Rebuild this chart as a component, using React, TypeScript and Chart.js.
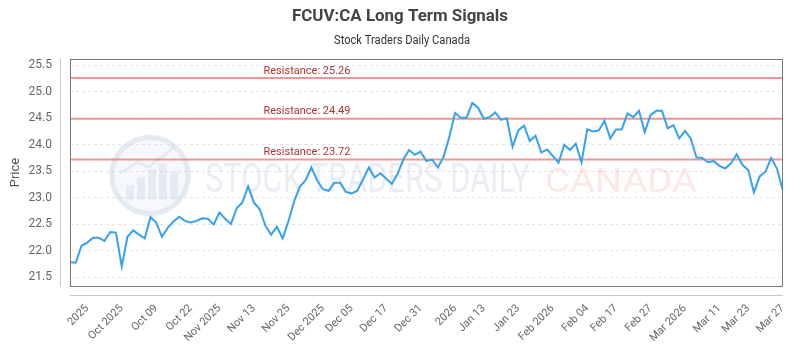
import React, { useEffect, useRef } from "react";
import { Chart, registerables } from "chart.js";

Chart.register(...registerables);

const prices: number[] = [
  21.78, 21.77, 22.09, 22.15, 22.24, 22.24, 22.18, 22.35, 22.34, 21.70,
  22.26, 22.38, 22.30, 22.23, 22.63, 22.53, 22.26, 22.43, 22.55, 22.64,
  22.56, 22.53, 22.56, 22.61, 22.60, 22.49, 22.72, 22.60, 22.50, 22.80,
  22.91, 23.21, 22.91, 22.78, 22.47, 22.30, 22.45, 22.23, 22.55, 22.93,
  23.21, 23.33, 23.57, 23.33, 23.16, 23.13, 23.28, 23.28, 23.11, 23.08,
  23.13, 23.35, 23.57, 23.38, 23.46, 23.36, 23.26, 23.45, 23.72, 23.90,
  23.81, 23.87, 23.69, 23.72, 23.57, 23.77, 24.15, 24.60, 24.51, 24.51,
  24.79, 24.70, 24.49, 24.52, 24.61, 24.47, 24.50, 23.96, 24.27, 24.36,
  24.07, 24.17, 23.85, 23.91, 23.79, 23.66, 24.00, 23.90, 24.02, 23.67,
  24.29, 24.25, 24.27, 24.45, 24.12, 24.29, 24.29, 24.59, 24.52, 24.64,
  24.24, 24.56, 24.64, 24.64, 24.31, 24.37, 24.12, 24.26, 24.12, 23.76,
  23.75, 23.67, 23.69, 23.60, 23.55, 23.65, 23.82, 23.62, 23.52, 23.10,
  23.40, 23.49, 23.75, 23.55, 23.15,
];

const tickIndices: number[] = [
  3, 9, 15, 21, 26, 32, 38, 44, 49, 55, 61, 67, 72, 78, 84, 90, 95, 101, 107, 113, 118, 124,
];
const tickLabels: string[] = [
  "2025", "Oct 2025", "Oct 09", "Oct 22", "Nov 2025", "Nov 13", "Nov 25",
  "Dec 2025", "Dec 05", "Dec 17", "Dec 31", "2026", "Jan 13", "Jan 23",
  "Feb 2026", "Feb 04", "Feb 17", "Feb 27", "Mar 2026", "Mar 11", "Mar 23", "Mar 27",
];

const resistanceLevels: number[] = [25.26, 24.49, 23.72];

const yMin = 21.33;
const yMax = 25.62;

const titleText = "FCUV:CA Long Term Signals";
const subtitleText = "Stock Traders Daily Canada";

function fitText(
  ctx: CanvasRenderingContext2D,
  text: string,
  x: number,
  y: number,
  width: number,
  font: string,
  color: string
) {
  ctx.save();
  ctx.font = font;
  ctx.fillStyle = color;
  ctx.textAlign = "left";
  ctx.textBaseline = "alphabetic";
  const w = ctx.measureText(text).width;
  ctx.translate(x, y);
  ctx.scale(width / w, 1);
  ctx.fillText(text, 0, 0);
  ctx.restore();
}

export default function App() {
  const ref = useRef<HTMLCanvasElement>(null);

  useEffect(() => {
    const canvas = ref.current;
    if (!canvas) return;
    const labels = prices.map((_, i) => {
      const k = tickIndices.indexOf(i);
      return k >= 0 ? tickLabels[k] : "";
    });

    const overlay = {
      id: "overlay",
      beforeDatasetsDraw(chart: any) {
        const { ctx, chartArea: a, scales } = chart;
        ctx.save();
        // watermark logo
        const cx = 150, cy = 175.5, r = 41;
        ctx.fillStyle = "rgba(200,210,228,0.16)";
        ctx.beginPath();
        ctx.arc(cx, cy, r, 0, Math.PI * 2);
        ctx.fill();
        ctx.strokeStyle = "rgba(190,202,222,0.32)";
        ctx.lineWidth = 5;
        ctx.beginPath();
        ctx.arc(cx, cy, r - 3, 0, Math.PI * 2);
        ctx.stroke();
        ctx.fillStyle = "rgba(185,198,220,0.28)";
        const bars = [
          [-24, 10, 14], [-13, 2, 22], [-2, -6, 30], [9, -12, 36], [20, -4, 28],
        ];
        bars.forEach(([dx, top, h]) => {
          ctx.fillRect(cx + dx, cy + top, 8, h);
        });
        ctx.strokeStyle = "rgba(185,198,220,0.28)";
        ctx.lineWidth = 3;
        ctx.beginPath();
        ctx.moveTo(cx - 30, cy - 2);
        ctx.lineTo(cx - 12, cy - 14);
        ctx.lineTo(cx - 2, cy - 8);
        ctx.lineTo(cx + 24, cy - 28);
        ctx.stroke();
        // watermark text
        fitText(ctx, "STOCK TRADERS DAILY", 205, 192, 325, "41px Roboto", "rgba(185,198,220,0.3)");
        fitText(ctx, "CANADA", 545, 192, 152, "34px Roboto", "rgba(248,170,170,0.28)");

        // resistance lines
        resistanceLevels.forEach((v) => {
          const y = scales.y.getPixelForValue(v);
          ctx.strokeStyle = "rgba(236,115,115,0.75)";
          ctx.lineWidth = 2;
          ctx.beginPath();
          ctx.moveTo(a.left, y);
          ctx.lineTo(a.right, y);
          ctx.stroke();
          ctx.fillStyle = "#b03333";
          ctx.font = "11px Roboto";
          ctx.textAlign = "left";
          ctx.textBaseline = "alphabetic";
          ctx.fillText(`Resistance: ${v.toFixed(2)}`, a.left + 0.2715 * (a.right - a.left), y - 4.5);
        });
        ctx.restore();
      },
      afterDraw(chart: any) {
        const { ctx, chartArea: a } = chart;
        ctx.save();
        // chart area box
        ctx.strokeStyle = "#777";
        ctx.lineWidth = 1;
        ctx.strokeRect(Math.round(a.left) + 0.5, Math.round(a.top) + 0.5, Math.round(a.right - a.left) - 1, Math.round(a.bottom - a.top));
        // offset axis lines
        ctx.strokeStyle = "#c8c8c8";
        ctx.beginPath();
        ctx.moveTo(60.5, a.top);
        ctx.lineTo(60.5, a.bottom + 1);
        ctx.stroke();
        ctx.beginPath();
        ctx.moveTo(a.left, 295.5);
        ctx.lineTo(a.right, 295.5);
        ctx.stroke();
        // titles
        fitText(ctx, titleText, 400 - 108, 21, 216, "bold 16px Roboto", "#444");
        fitText(ctx, subtitleText, 402 - 68, 44, 136, "12px Roboto", "#333");
        // y title
        ctx.translate(15.5, (a.top + a.bottom) / 2);
        ctx.rotate(-Math.PI / 2);
        ctx.font = "13px Roboto";
        ctx.fillStyle = "#555";
        ctx.textAlign = "center";
        ctx.textBaseline = "middle";
        ctx.fillText("Price", 0, 0);
        ctx.restore();
      },
    };

    const chart = new Chart(canvas, {
      type: "line",
      data: {
        labels,
        datasets: [
          {
            data: prices,
            borderColor: "rgb(54,162,235)",
            backgroundColor: "rgb(54,162,235)",
            borderWidth: 2,
            pointRadius: 0,
            tension: 0,
            fill: false,
          },
        ],
      },
      options: {
        responsive: false,
        animation: false,
        devicePixelRatio: 1,
        layout: { padding: { left: 0, right: 10, top: 59, bottom: 0 } },
        plugins: {
          legend: { display: false },
          title: { display: false },
          tooltip: { enabled: false },
        },
        scales: {
          x: {
            type: "category",
            grid: { display: false },
            border: { display: false },
            ticks: {
              autoSkip: false,
              maxRotation: 45,
              minRotation: 45,
              padding: 8,
              color: "#666",
              font: { family: "Roboto", size: 11 },
            },
            afterFit: (scale: any) => {
              scale.height = 64;
            },
          },
          y: {
            min: yMin,
            max: yMax,
            grid: { color: "#e4e4e4", lineWidth: 1, drawTicks: false },
            border: { display: false, dash: [3, 3] },
            ticks: {
              stepSize: 0.5,
              includeBounds: false,
              padding: 18,
              color: "#666",
              font: { family: "Roboto", size: 12 },
              callback: (v: any) => Number(v).toFixed(1),
            },
            afterFit: (scale: any) => {
              scale.width = 70;
            },
          },
        },
      },
      plugins: [overlay],
    } as any);

    return () => chart.destroy();
  }, []);

  return (
    <div style={{ position: "fixed", left: 0, top: 0, width: 800, height: 350, background: "#fff" }}>
      <canvas ref={ref} width={800} height={350} style={{ display: "block" }} />
    </div>
  );
}
